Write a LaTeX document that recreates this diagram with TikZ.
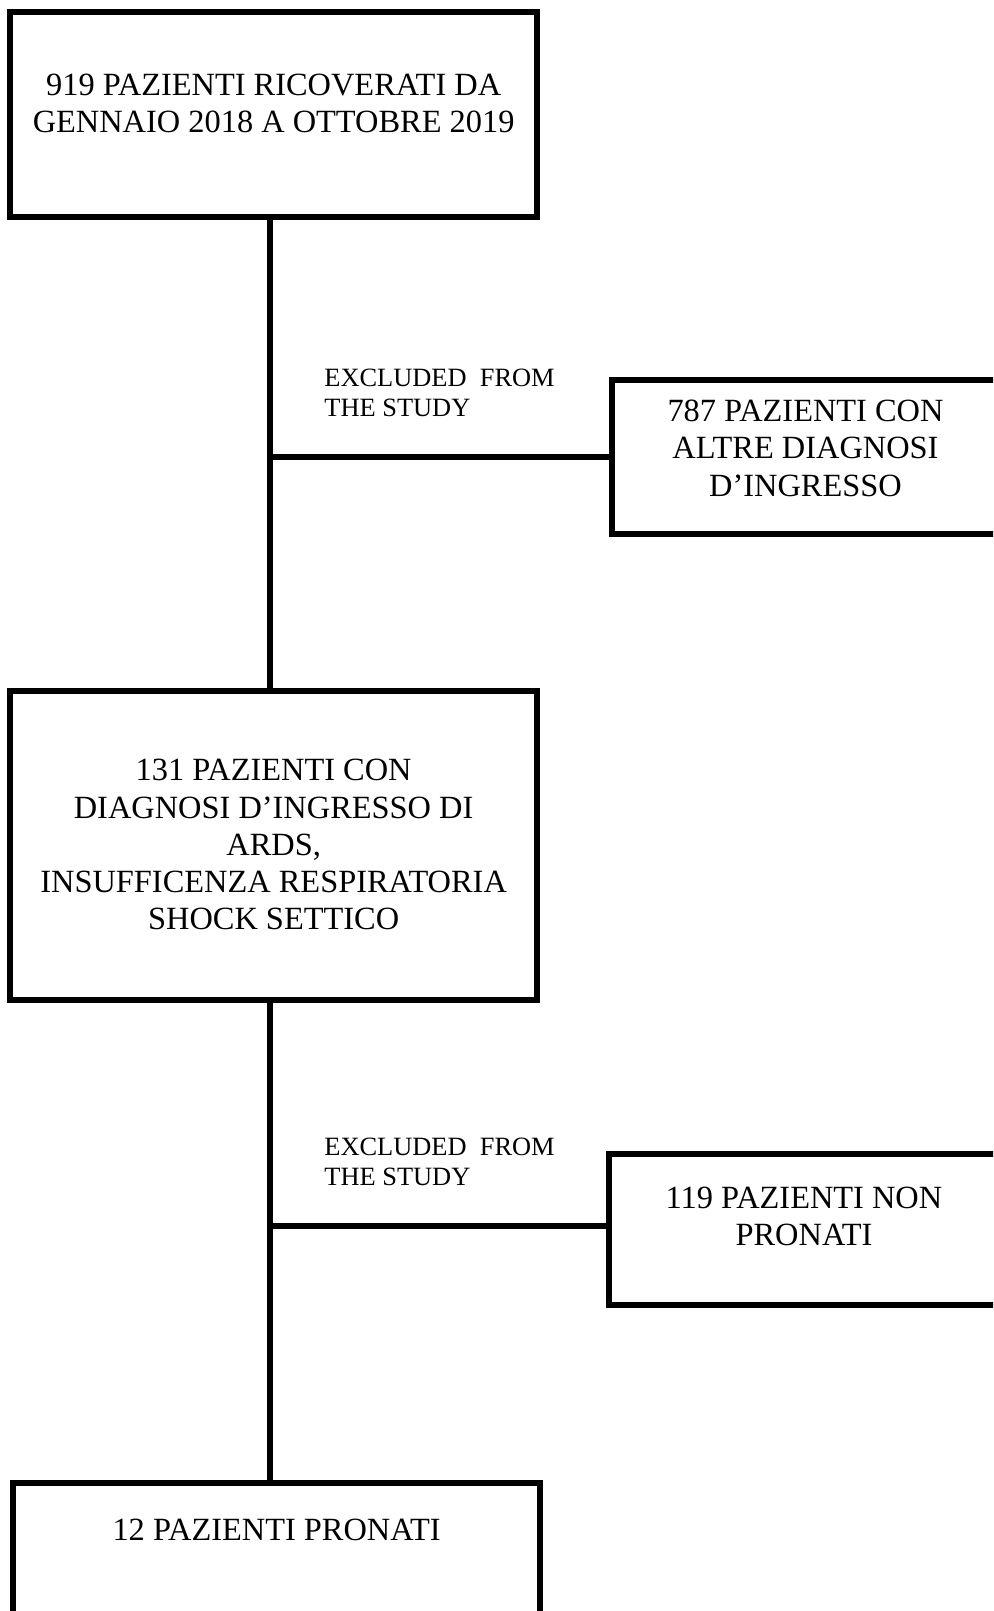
\documentclass[tikz,border=0pt]{standalone}
\usepackage{fontspec}
\setmainfont{Liberation Serif}
\usepackage{tikz}
\usetikzlibrary{positioning,calc}

\begin{document}
\begin{tikzpicture}[
  x=0.5pt,y=-0.5pt,
  bx/.style={draw,line width=3pt,inner sep=0pt,outer sep=0pt,anchor=north west,
             align=center,font=\fontsize{16.2}{18.6}\selectfont},
  lbl/.style={anchor=base west,align=left,inner sep=0pt,
              font=\fontsize{13.2}{14.7}\selectfont},
  ln/.style={line width=3pt}
]
\path[use as bounding box,clip] (0,0) rectangle (993,1611);

\node[bx,minimum width=263.35pt,text height=60.5pt,text depth=42pt]
  (n919) at (10.3,12) {919 PAZIENTI RICOVERATI DA\\GENNAIO 2018 A OTTOBRE 2019};
\node[bx,minimum width=193.5pt,text height=57.85pt,text depth=18.85pt]
  (n787) at (612,380.3) {787 PAZIENTI CON\\ALTRE DIAGNOSI\\D’INGRESSO};
\node[bx,minimum width=263.35pt,text height=119.55pt,text depth=35.05pt]
  (n131) at (10.3,690.5) {131 PAZIENTI CON\\DIAGNOSI D’INGRESSO DI\\ARDS,\\INSUFFICENZA RESPIRATORIA\\SHOCK SETTICO};
\node[bx,minimum width=195pt,text height=46.1pt,text depth=29.55pt]
  (n119) at (609,1153.7) {119 PAZIENTI NON\\PRONATI};
\node[bx,minimum width=263.35pt,text height=28.5pt,text depth=55pt]
  (n12) at (13.3,1483) {12 PAZIENTI PRONATI};

\coordinate (j1) at (270.3,457);
\coordinate (j2) at (270.3,1226.3);

\node[lbl] (ex1) at (324,416) {EXCLUDED\ \ FROM\\THE STUDY};
\node[lbl] (ex2) at (324,1185) {EXCLUDED\ \ FROM\\THE STUDY};

\draw[ln] (n919.south -| j1) -- (n131.north -| j1);
\draw[ln] (j1) -- (n787.west |- j1);
\draw[ln] (n131.south -| j2) -- (n12.north -| j2);
\draw[ln] (j2) -- (n119.west |- j2);
\end{tikzpicture}
\end{document}
